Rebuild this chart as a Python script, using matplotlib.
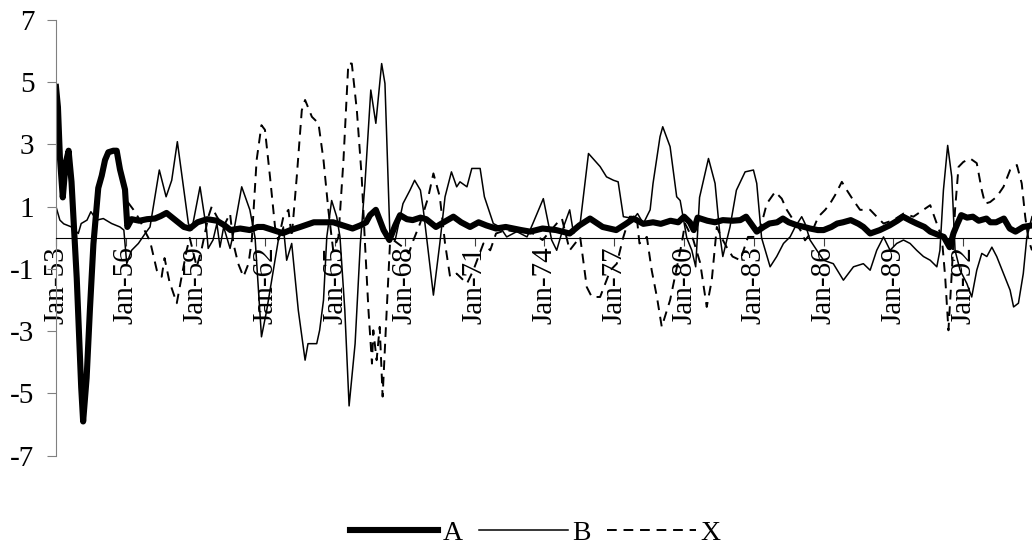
import matplotlib

matplotlib.use("Agg")
import matplotlib.pyplot as plt

plt.rcParams["font.family"] = ["Liberation Serif", "DejaVu Serif"]
plt.rcParams["axes.unicode_minus"] = False

# months counted from Jan-1953
a_month = [0, 1, 2, 3.5, 5, 6.5, 8, 10.7, 13, 14, 15.8, 17.5, 19.3, 21.8, 23.6, 25.3, 27, 29.6, 31.3,
           33, 35.6, 36.8, 39, 43, 47, 51, 54, 57, 60, 63, 66, 69, 73, 78, 83, 87, 90, 95, 100, 104,
           107, 112, 117, 121, 126, 133, 138, 143, 148, 153, 157, 160, 162, 165, 169, 172, 175, 177.5,
           181, 184, 188, 191, 196, 200, 205, 209, 213.6, 218, 222, 227, 232, 236, 240, 244.6, 251,
           258, 265, 270, 275.5, 282, 289, 294, 298, 303, 308, 312, 317, 321, 324, 327, 329, 331, 336,
           340, 344, 349, 353, 356, 361.5, 365, 368, 372, 375, 378, 382, 386, 389, 393, 396, 400, 403,
           406, 410, 414, 416.5, 420, 425, 430, 434, 437, 441, 444, 448, 451, 455, 458, 461, 463, 465,
           467, 470, 473, 476, 480, 482, 485, 489, 492, 495, 499, 503.5]
a_val = [4.85, 4.2, 2.6, 1.3, 2.4, 2.8, 1.8, -1.3, -4.8, -5.9, -4.5, -2.3, -0.2, 1.6, 2.0, 2.5, 2.75, 2.8,
         2.8, 2.2, 1.55, 0.35, 0.6, 0.55, 0.6, 0.62, 0.7, 0.8, 0.65, 0.5, 0.35, 0.3, 0.5, 0.6, 0.55, 0.4,
         0.25, 0.3, 0.25, 0.35, 0.35, 0.25, 0.15, 0.25, 0.35, 0.5, 0.5, 0.5, 0.4, 0.3, 0.4, 0.5, 0.73,
         0.9, 0.25, -0.07, 0.4, 0.73, 0.6, 0.57, 0.65, 0.6, 0.35, 0.5, 0.68, 0.5, 0.35, 0.5, 0.4, 0.3,
         0.35, 0.3, 0.25, 0.2, 0.3, 0.25, 0.14, 0.4, 0.62, 0.35, 0.25, 0.45, 0.62, 0.45, 0.5, 0.45,
         0.55, 0.5, 0.68, 0.5, 0.25, 0.65, 0.55, 0.5, 0.57, 0.55, 0.57, 0.68, 0.2, 0.35, 0.46, 0.5,
         0.62, 0.5, 0.41, 0.35, 0.3, 0.25, 0.25, 0.35, 0.46, 0.5, 0.57, 0.45, 0.35, 0.14, 0.25, 0.4,
         0.55, 0.68, 0.55, 0.46, 0.35, 0.2, 0.1, 0.03, -0.3, 0.15, 0.45, 0.73, 0.65, 0.68, 0.55, 0.62,
         0.5, 0.5, 0.62, 0.3, 0.2, 0.35, 0.4]

b_month = [0, 2, 4, 8, 11.5, 13, 16, 18, 21, 24.4, 28.7, 33, 35, 36.5, 39, 42.5, 46, 48.5, 53.3, 56.8,
           59.7, 62.6, 68.3, 70, 74.3, 77.7, 78.5, 81, 83, 84.6, 86.5, 89.8, 91.5, 95.8, 100, 102.7,
           106, 108.7, 114.7, 117.3, 119, 121.6, 125, 128.5, 130, 134.5, 136, 138, 139.7, 142.2, 144.8,
           146.5, 149, 151.2, 154.3, 157, 159.4, 162.4, 165, 168, 169.7, 172.3, 175, 179, 182.6, 185,
           188, 189.5, 194.7, 198, 200.7, 204, 206.7, 208.4, 212, 214.5, 218.8, 221, 225.6, 229,
           232.5, 237.7, 243, 246, 251.4, 255.7, 258.3, 261.8, 265, 267, 270.4, 274.7, 280.7, 284,
           287.6, 290, 292.7, 298, 300, 303, 306.5, 308, 311.6, 313, 316.8, 320.2, 322, 325.4, 328,
           330, 332, 336.6, 340, 342.6, 344, 347.7, 351, 355.5, 359.8, 361.5, 364, 368.4, 371.8,
           375.3, 378.7, 381.3, 384.7, 386.4, 389, 392.5, 396, 401, 406.2, 411.4, 416.5, 420, 423.4,
           426.9, 430.3, 433.7, 437.2, 440.6, 444, 447.5, 451, 454.4, 456, 457.8, 460, 462.1, 463.8,
           466.4, 469.9, 472.4, 475, 477.6, 480.2, 482.8, 485.3, 488.8, 492.2, 494, 496.5, 499, 500.8,
           503.5]
b_val = [1.0, 0.57, 0.45, 0.35, 0.14, 0.46, 0.57, 0.84, 0.57, 0.62, 0.46, 0.35, 0.25, -0.83, -0.4, -0.18,
         0.14, 0.35, 2.18, 1.32, 1.85, 3.09, 0.46, 0.25, 1.64, 0.25, -0.34, -0.07, 0.46, -0.3, 0.35, -0.34,
         0.14, 1.64, 0.9, 0.0, -3.18, -2.33, -0.07, 0.35, -0.72, -0.18, -2.33, -3.93, -3.4, -3.4, -2.97,
         -2.0, 0.03, 1.2, 0.68, 0.03, -2.33, -5.4, -3.4, -0.18, 1.75, 4.75, 3.68, 5.6, 4.96, 0.0, -0.07,
         1.1, 1.53, 1.85, 1.53, 0.9, -1.84, -0.18, 1.32, 2.12, 1.64, 1.8, 1.64, 2.23, 2.23, 1.32, 0.46,
         0.35, 0.03, 0.2, 0.03, 0.46, 1.26, -0.07, -0.4, 0.35, 0.9, 0.14, 0.46, 2.71, 2.29, 1.96, 1.85,
         1.8, 0.68, 0.62, 0.78, 0.46, 0.9, 1.75, 3.25, 3.57, 2.93, 1.32, 1.2, 0.0, -0.4, -0.93, 1.3, 2.55,
         1.75, 0.03, -0.6, 0.35, 1.53, 2.12, 2.18, 1.75, 0.0, -0.93, -0.6, -0.18, 0.03, 0.35, 0.68, 0.46,
         -0.07, -0.4, -0.72, -0.83, -1.36, -0.93, -0.83, -1.04, -0.4, 0.03, -0.4, -0.18, -0.07, -0.18,
         -0.4, -0.6, -0.72, -0.93, -0.4, 1.53, 2.97, 1.96, -0.4, -1.04, -1.47, -1.9, -1.04, -0.5, -0.6,
         -0.3, -0.6, -1.15, -1.68, -2.22, -2.1, -1.15, 0.0, 0.68]

x_month = [37, 40, 43, 46, 48.5, 52, 54.5, 56, 58.5, 62.3, 64.8, 67.4, 69, 72.6, 75, 78.6, 80.3, 83,
           86.3, 89.8, 91.5, 94, 96.7, 99.3, 101, 103.5, 106, 107.8, 110.4, 113, 114.7, 117.3, 119.9,
           121.6, 124.2, 126.8, 128.5, 132, 135.4, 138, 140.5, 143, 145.7, 148.3, 150.8, 152.6, 155.2,
           157.7, 159.4, 161.2, 163, 163.7, 165.4, 167, 168.5, 170.6, 172.3, 174, 179, 182, 184.4,
           187.8, 192, 194.7, 198, 200.7, 203.3, 206.7, 212, 215.3, 220.5, 224, 227, 232, 237, 244.6,
           251, 258.3, 261, 265, 270.4, 273.8, 276.4, 280.7, 286, 289.3, 292.7, 296, 299.6, 301, 304.8,
           307.3, 310, 312.5, 316.8, 320, 322.8, 324.5, 328.8, 332.3, 335.7, 338.3, 340.9, 343.4, 346,
           349, 353, 357, 361.5, 364, 366.7, 371, 374.4, 377, 380.4, 384, 386.4, 390, 393.3, 396.8,
           399.3, 401.9, 405.4, 408, 411.4, 414.8, 420, 423.4, 426.9, 432, 437.2, 442.3, 447.5, 451,
           454.4, 457, 458.7, 460.4, 462, 463.8, 465.6, 468.1, 471.6, 475, 477.6, 479.3, 481.9, 485.3,
           488.8, 492.2, 495.7, 498.2, 500, 501.7, 503.5]
x_val = [1.15, 0.9, 0.6, 0.2, -0.1, -1.04, -1.25, -0.65, -1.4, -2.1, -1.25, -0.4, 0.0, -0.93, -0.4, 0.68,
         1.0, 0.68, 0.35, 0.78, -0.18, -0.83, -1.25, -0.83, -0.07, 2.5, 3.62, 3.47, 1.96, 0.35, -0.07,
         0.68, 0.9, 0.03, 1.96, 4.1, 4.43, 3.89, 3.68, 2.5, 0.9, -0.4, 0.03, 2.5, 5.6, 5.6, 4.1, 1.96,
         -0.18, -2.33, -4.04, -2.97, -3.93, -2.86, -5.1, -2.33, -0.18, -0.07, -0.3, -0.5, -0.07, 0.46,
         1.3, 2.07, 1.32, -0.18, -1.25, -1.15, -1.47, -1.04, -0.18, -0.4, 0.14, 0.25, 0.2, 0.2, -0.07,
         0.46, 0.62, -0.4, 0.03, -1.58, -1.9, -1.9, -1.04, -0.83, 0.03, 0.68, 0.68, -0.18, 0.03, -1.04,
         -1.9, -2.86, -2.0, -1.04, -0.18, 0.46, -0.07, -0.8, -2.22, -1.36, 0.35, 0.0, -0.3, -0.6, -0.72,
         0.03, 0.03, 0.46, 1.1, 1.48, 1.26, 0.9, 0.57, 0.25, -0.08, 0.2, 0.68, 0.9, 1.1, 1.37, 1.8, 1.53,
         1.2, 0.9, 0.9, 0.68, 0.46, 0.57, 0.78, 0.68, 0.9, 1.05, 0.46, 0.0, -1.25, -2.97, -1.25, 0.9,
         2.28, 2.44, 2.55, 2.4, 1.53, 1.1, 1.15, 1.32, 1.64, 2.18, 2.34, 1.75, 0.68, -0.07, -0.4]

tick_months = [0, 36, 72, 108, 144, 180, 216, 252, 288, 324, 360, 396, 432, 468]
tick_labels = ["Jan-53", "Jan-56", "Jan-59", "Jan-62", "Jan-65", "Jan-68", "Jan-71",
               "Jan-74", "Jan-77", "Jan-80", "Jan-83", "Jan-86", "Jan-89", "Jan-92"]
y_ticks = [-7, -5, -3, -1, 1, 3, 5, 7]

fig = plt.figure(figsize=(10.32, 5.52), dpi=100)
ax = fig.add_axes([56 / 1032, 1 - 455.7 / 552, 1 - 56 / 1032, 435.7 / 552])

# spine placement first, it resets the tick setup
for s in ["top", "right"]:
    ax.spines[s].set_visible(False)
ax.spines["bottom"].set_position(("data", 0))
ax.spines["bottom"].set_linewidth(0.8)
ax.spines["left"].set_color("#808080")

ax.plot(a_month, a_val, color="black", lw=4.4, solid_joinstyle="round", label="A")
ax.plot(b_month, b_val, color="black", lw=1.1, label="B")
ax.plot(x_month, x_val, color="black", lw=1.4, linestyle=(0, (5, 3.5)), label="X")

ax.set_xlim(0, 503.5)
ax.set_ylim(-7, 7)
ax.set_yticks(y_ticks)
ax.set_xticks(tick_months)
ax.set_xticklabels(tick_labels, rotation=90, va="top")

ax.tick_params(axis="y", direction="out", length=6.5, width=0.8, color="#808080",
               pad=9, labelsize=21)
ax.tick_params(axis="x", direction="out", length=6, width=0.8, color="#404040",
               pad=0, labelsize=21)

fig.legend(loc="center", bbox_to_anchor=(535 / 1032, 1 - 533 / 552), ncol=3, frameon=False,
           fontsize=20, handlelength=3.2, handletextpad=0.15, columnspacing=0.6)

fig.savefig("out.png", dpi=100)
